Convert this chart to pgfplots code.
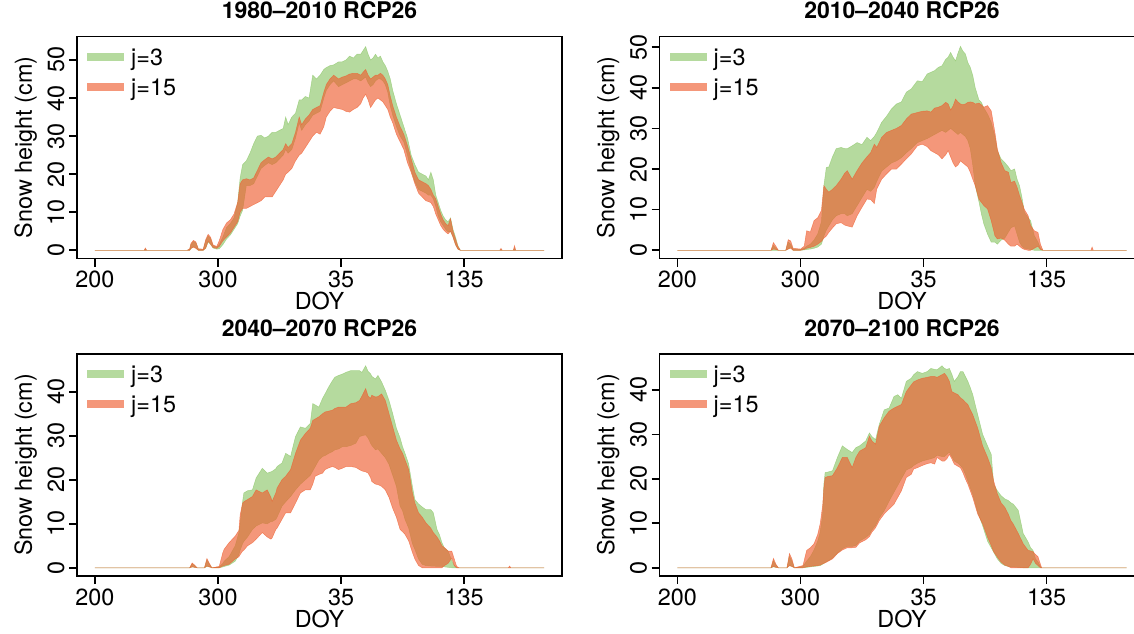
\documentclass[border=0pt]{standalone}
\usepackage{pgfplots}
\pgfplotsset{compat=1.18}
\usepackage{pgfplotstable}
\usepgfplotslibrary{fillbetween}
\usepackage{fontspec}
\setmainfont{TeX Gyre Heros}

\definecolor{gfill}{RGB}{139,197,103}
\definecolor{ofill}{RGB}{238,93,47}
\definecolor{gsw}{RGB}{181,218,158}
\definecolor{osw}{RGB}{244,151,122}
\newcommand\fs{\fontsize{11.7}{14}\selectfont}
\newcommand\ft{\fontsize{11.5}{14}\selectfont\bfseries}

% snow height envelopes: d = day index (DOY, continued past 365),
% gl/gh = band for j=3, ol/oh = band for j=15
\pgfplotstableread{
d gl gh ol oh
200 0 0 0 0
240 0 0 0 0
241 0 0.3 0 0.6
242 0 0 0 0
275 0 0 0 0
277 0 0.3 0 0.4
278 0.4 1.5 0.5 1.8
280 1.0 2.3 0.8 2.6
282 0.6 2.0 0.5 2.2
284 0 0.3 0 0.4
288 0 0.2 0 0.3
290 0.5 2.5 0.6 2.8
292 2.2 3.8 2.4 4.2
294 1.5 3.0 1.6 3.4
296 0.6 1.2 0.7 1.4
299 0.3 0.8 0.5 1.0
301 0.4 1.5 1.0 2.5
304 1.5 3.5 2.5 5.5
307 3.0 6.0 3.5 7.2
310 4.0 7.0 4.5 8.0
313 5.5 8.5 6.0 9.5
316 7.0 12.5 7.5 12.6
318 9.0 19.0 10.0 17.5
320 10.5 22.5 11.0 18.5
323 17.0 23.5 11.0 18.8
326 17.0 25.5 11.5 18.5
329 17.5 28.0 12.0 19.0
332 19.5 30.0 12.5 21.0
335 21.5 30.2 13.0 23.0
338 22.3 29.5 14.0 23.8
341 23.0 30.0 14.0 24.5
344 22.5 31.0 14.0 24.0
347 23.0 31.0 15.5 24.5
350 24.0 31.5 17.0 25.5
353 25.0 32.0 18.5 26.5
355 26.5 35.0 20.0 28.0
357 25.5 33.0 20.5 27.0
360 26.5 35.0 21.5 28.0
363 29.5 36.0 23.5 31.0
366 33.5 39.5 25.0 35.0
368 31.5 39.5 25.5 33.0
371 33.0 40.4 27.0 34.5
374 34.0 40.0 28.5 35.5
377 35.5 46.0 30.0 37.0
380 36.0 45.0 31.0 37.5
383 36.5 46.0 30.5 38.0
386 40.0 47.5 32.5 41.5
388 42.0 48.0 35.0 43.5
391 43.5 48.5 36.5 45.0
394 44.5 48.7 37.5 46.0
398 43.0 49.5 37.2 45.0
401 43.5 49.5 37.0 45.5
404 44.0 50.0 36.5 45.8
407 44.5 51.0 36.3 46.3
410 45.0 50.5 37.0 46.5
413 45.0 51.5 37.5 46.5
416 44.5 51.5 38.5 46.0
418 45.0 52.5 40.0 46.8
420 45.5 53.5 41.0 47.5
422 44.0 51.5 39.5 46.0
424 43.0 50.0 37.5 45.0
426 43.5 50.5 38.5 45.5
428 44.5 51.5 39.5 46.0
430 45.0 50.5 40.0 46.0
432 45.0 51.0 39.5 46.5
434 44.5 49.5 39.0 46.0
436 43.5 48.5 38.0 45.0
438 41.5 47.0 37.0 43.5
440 38.0 45.0 35.0 40.5
442 35.5 42.0 33.5 38.0
445 32.5 38.5 30.5 35.0
448 30.0 35.5 28.5 32.5
451 28.5 32.5 26.5 30.5
454 25.0 29.5 23.0 27.5
457 21.0 25.0 20.5 24.0
460 18.0 22.5 17.5 20.5
463 16.0 20.5 15.0 18.5
466 15.5 20.0 14.0 18.0
469 15.0 19.5 13.0 17.5
471 14.5 18.5 12.8 17.0
473 14.5 20.5 12.5 16.0
475 13.5 18.5 11.5 14.5
477 11.5 14.5 9.5 13.5
479 9.0 12.5 8.0 11.5
481 7.5 10.5 6.5 9.5
483 6.5 9.0 5.5 8.0
485 5.5 8.0 4.8 7.0
487 4.8 7.5 4.3 6.5
489 5.0 8.5 5.0 8.3
491 3.5 5.5 3.5 5.0
493 1.5 3.5 1.5 3.0
495 0.3 1.2 0.3 1.0
497 0 0 0 0
529 0 0 0 0
530 0 0.2 0 0.5
531 0 0 0 0
540 0 0 0 0
541 0 0.5 0 1.2
542 0 0 0 0
565 0 0 0 0
}\tabA

\pgfplotstableread{
d gl gh ol oh
200 0 0 0 0
276 0 0 0 0
278 0 1.2 0.3 1.9
280 0 0.5 0.2 1.0
282 0 0 0 0
288 0 0 0 0
290 0.3 2.0 0.3 2.6
292 0.8 1.5 0.5 2.3
294 0 0.3 0 0.5
300 0 0.2 0 0.3
303 0.1 0.5 0.2 1.0
305 0.2 1.0 0.5 4.8
308 0.3 1.5 0.7 4.5
311 0.5 2.5 1.0 7.3
314 0.8 4.0 1.5 8.0
317 1.5 7.0 2.2 9.8
319 3.5 15.9 3.0 15.9
321 5.0 20.4 3.5 15.0
323 6.0 20.5 4.4 14.3
326 7.5 23.0 5.5 15.0
329 8.5 25.0 6.5 15.9
333 9.0 25.3 6.8 17.5
336 9.0 25.0 6.2 19.0
338 8.5 25.0 6.0 19.6
342 9.0 25.7 5.7 17.5
346 11.0 26.5 8.5 19.6
350 13.0 26.0 10.6 21.5
354 15.0 27.8 12.6 23.0
357 14.5 27.0 12.5 24.0
360 15.5 28.0 11.5 26.1
362 17.0 29.0 15.1 25.3
366 19.5 31.5 17.5 27.8
370 20.5 33.0 18.8 29.0
374 21.5 34.8 20.0 29.5
378 22.0 36.0 20.0 30.0
382 22.8 36.5 21.2 30.7
386 24.0 38.9 22.5 32.3
390 25.0 39.7 23.7 33.5
395 26.5 41.7 25.7 33.9
399 27.0 41.5 26.1 34.2
403 27.5 43.4 25.5 34.3
406 28.0 43.8 24.5 34.0
409 28.5 44.2 24.0 35.0
412 29.0 45.0 23.5 35.2
415 29.5 45.4 22.5 35.6
418 29.0 47.0 23.5 36.4
420 29.5 47.5 24.5 36.0
422 30.0 48.7 23.0 34.5
424 29.5 47.5 21.5 35.5
426 29.0 46.6 20.5 37.2
428 28.5 48.5 21.0 36.5
430 29.0 50.2 22.0 36.0
432 28.5 49.0 21.5 35.8
434 28.0 48.3 21.0 36.0
436 27.0 46.2 20.5 36.4
438 25.0 45.0 19.2 36.5
440 21.0 43.0 17.5 36.4
442 16.0 40.0 15.9 36.0
445 12.0 37.0 12.6 36.2
447 9.0 36.4 11.8 35.8
449 6.5 35.0 11.0 35.2
452 4.0 33.5 10.2 35.6
455 2.0 31.5 7.3 34.3
458 2.0 28.0 3.6 29.0
460 1.5 24.5 2.8 24.9
463 2.5 22.5 3.0 21.6
466 3.0 21.6 2.5 19.6
469 4.5 20.5 1.5 19.2
471 5.5 19.6 1.0 16.7
474 6.0 20.0 1.0 17.0
476 4.0 17.5 1.5 15.5
478 2.0 15.9 1.0 13.5
480 1.0 13.0 0.5 11.8
482 0.5 9.3 0.2 10.0
485 0.3 8.0 0 8.5
487 0.2 7.3 0 6.1
490 0 3.6 0.5 4.8
493 0 2.0 1.0 4.4
495 0 0.5 0.2 1.5
497 0 0 0 0
536 0 0 0 0
537 0 0 0 0.8
538 0 0 0 0
565 0 0 0 0
}\tabB

\pgfplotstableread{
d gl gh ol oh
200 0 0 0 0
277 0 0 0 0
279 0.2 0.9 0.2 1.1
281 0.1 0.5 0.1 0.6
283 0 0 0 0
289 0 0 0 0
291 0.3 1.8 0.4 2.1
293 0.2 0.8 0.2 1.0
295 0 0 0 0
301 0 0.2 0 0.3
304 0.2 1.0 0.4 3.5
305 0.3 1.5 0.5 4.2
309 0.6 2.5 0.8 5.7
314 1.5 5.0 2.0 7.2
317 3.0 8.0 2.5 8.5
318 4.0 10.0 3.0 12.0
320 5.5 15.0 3.8 14.7
321 6.0 17.0 4.0 15.0
324 7.0 17.5 5.0 15.5
328 8.7 17.7 5.7 16.2
331 9.5 20.4 6.5 17.7
336 10.2 22.6 8.0 17.0
340 10.0 21.5 7.0 17.7
343 10.5 21.8 6.5 16.0
344 10.5 21.9 6.8 15.1
347 11.0 22.5 8.7 17.0
348 11.5 23.0 9.0 18.1
352 14.0 23.8 11.0 20.0
355 15.0 26.0 12.5 20.8
359 16.2 25.3 12.5 22.3
363 17.7 29.8 14.7 26.0
367 19.0 32.0 17.0 29.0
371 20.0 31.7 17.7 30.5
375 21.0 32.8 17.7 31.7
377 22.0 37.3 19.0 33.5
379 23.0 37.0 20.8 33.8
382 24.5 36.5 21.2 34.3
385 25.3 38.5 21.5 35.0
387 25.5 39.5 22.3 35.4
390 26.0 41.1 22.7 35.6
393 26.4 42.5 23.0 35.8
395 26.8 43.3 22.8 36.2
398 27.0 43.7 22.3 36.5
401 27.5 44.0 22.6 36.5
404 27.5 44.4 23.0 36.5
408 27.8 44.8 23.0 37.3
412 28.3 44.8 22.8 37.5
415 29.8 44.8 22.3 38.0
417 30.0 44.4 22.0 39.0
420 30.2 45.9 21.8 40.7
422 29.5 44.6 21.5 39.0
424 28.3 44.1 20.5 38.5
425 27.8 43.5 19.6 39.2
428 26.8 42.9 19.0 38.8
430 27.0 43.7 18.9 38.9
433 26.0 42.2 18.5 39.5
436 25.0 40.3 17.7 38.0
439 23.5 38.0 16.0 35.0
442 21.0 35.0 13.5 32.0
445 18.5 31.7 11.5 29.0
448 14.0 29.5 8.7 27.0
450 13.0 27.5 8.2 26.0
452 11.0 26.0 7.6 24.5
455 9.0 23.5 6.1 22.3
458 5.5 18.5 3.5 17.0
460 4.2 15.5 2.0 14.7
463 2.0 14.5 0.5 12.5
466 0.8 13.8 0 11.5
469 0.5 13.2 0 10.2
473 0.4 13.2 0 9.0
475 0.4 12.5 0 8.0
478 0.3 8.7 0 7.0
480 0.3 7.5 0 6.1
482 0.3 5.7 0 5.0
484 0.2 4.5 0.5 4.6
487 0.1 3.8 1.0 3.8
490 0 1.6 2.2 3.8
492 0 0.5 0.5 2.0
494 0 0 0 0.3
496 0 0 0 0
536 0 0 0 0
537 0 0 0 0.4
538 0 0 0 0
565 0 0 0 0
}\tabC

\pgfplotstableread{
d gl gh ol oh
200 0 0 0 0
276 0 0 0 0
278 0.2 1.6 0.3 2.1
280 0.1 0.6 0.1 0.8
282 0 0 0 0
289 0 0 0 0
291 0.5 2.6 0.5 3.2
293 0.3 1.5 0.3 2.0
295 0 0 0 0
302 0 0.3 0 0.5
305 0.1 1.5 0.2 3.9
308 0.2 2.5 0.3 4.5
311 0.3 4.0 0.4 5.4
314 0.4 6.0 0.5 7.5
316 0.5 8.0 0.6 9.9
318 0.8 12.0 0.9 14.0
319 1.0 18.8 1.0 18.0
320 1.2 21.4 1.1 20.3
322 1.5 21.5 1.4 20.5
326 2.2 21.8 2.0 20.7
330 3.3 24.8 3.2 22.5
334 4.3 27.4 4.0 24.8
338 4.8 26.6 4.5 24.8
342 4.8 25.9 4.5 22.5
345 5.0 27.0 4.6 24.8
348 6.0 27.4 5.6 26.2
353 6.8 28.5 6.3 27.0
356 7.5 30.3 7.0 29.6
358 8.5 29.5 8.0 28.5
361 9.5 28.8 9.0 27.8
364 11.2 32.2 10.6 31.8
368 12.8 35.5 12.1 33.7
372 15.0 35.9 13.2 35.2
376 17.0 38.5 14.3 35.9
379 18.5 38.9 15.8 36.3
382 20.0 38.1 17.3 36.7
386 22.0 41.9 20.3 39.6
390 22.5 42.6 21.0 41.1
392 23.0 43.4 22.2 41.8
395 23.5 44.1 22.5 42.2
399 24.0 43.7 23.0 42.6
403 24.3 44.1 23.4 42.8
406 24.5 44.8 23.6 43.0
409 24.8 44.6 23.3 43.0
411 25.3 44.5 24.8 42.8
415 25.0 45.4 24.0 43.4
417 25.0 44.8 24.0 43.7
419 25.5 44.6 24.5 43.0
421 26.0 44.8 25.5 41.9
423 25.0 43.5 24.5 39.6
425 24.0 41.9 23.3 39.3
428 23.5 43.0 22.8 38.9
430 23.0 44.1 22.5 38.2
432 22.3 44.1 21.4 37.8
434 21.0 43.0 20.0 37.2
436 19.5 41.9 18.8 36.7
438 18.0 40.5 17.3 35.5
440 16.5 38.9 15.8 34.4
444 12.5 34.4 12.1 31.4
448 9.5 30.0 9.9 27.4
452 6.0 27.4 6.9 24.8
455 4.5 25.5 5.0 22.5
457 3.5 18.8 3.6 19.5
460 2.0 17.3 2.4 16.6
463 1.0 16.2 1.3 14.6
466 0.5 15.5 0.6 13.6
469 0.3 15.1 0.3 12.0
471 0.2 14.6 0 10.6
473 0.2 14.3 0 9.8
477 0.1 12.9 0 7.7
481 0 7.7 0 5.4
485 0 5.8 0 3.9
487 0 4.5 0.8 3.8
489 0 3.9 2.0 3.6
491 0 2.0 1.0 3.0
493 0 1.3 0.5 2.5
495 0 0.3 0 0.8
496 0 0 0 0
565 0 0 0 0
}\tabD

\pgfplotsset{
  snow/.style={
    scale only axis, width=242.5pt, height=111pt,
    xmin=185.4, xmax=579.6,
    xtick={200,300,400,500}, xticklabels={200,300,35,135},
    axis line style={line width=0.8pt},
    tick style={black, line width=0.8pt},
    tick align=outside, xtick pos=bottom, ytick pos=left,
    major tick length=4pt,
    tick label style={font=\fs},
    /pgf/number format/assume math mode=true,
    xticklabel style={anchor=base},
    xticklabel shift=10.6pt,
    yticklabel style={rotate=90, anchor=base},
    yticklabel shift=2.4pt,
    xlabel={DOY}, ylabel={Snow height (cm)},
    xlabel style={at={(axis description cs:0.5,-0.2297)}, anchor=base, font=\fs},
    ylabel style={at={(axis description cs:-0.0928,0.5)}, anchor=base, font=\fs},
    title style={at={(axis description cs:0.5,1.0257)}, anchor=base, font=\ft},
    legend cell align=left,
    legend style={at={(axis description cs:0.0206,0.949)}, anchor=north west,
      draw=none, fill=none, inner sep=0pt, row sep=6.5pt,
      nodes={inner sep=0pt, text height=8.5pt, text depth=0pt, font=\fs},
      /tikz/every odd column/.append style={column sep=3.5pt}},
  },
  gband/.style={fill=gfill, fill opacity=0.64, draw=gfill, draw opacity=0.64, line width=0.25pt, forget plot},
  oband/.style={fill=ofill, fill opacity=0.64, draw=ofill, draw opacity=0.64, line width=0.25pt, forget plot},
}

% two overlapping envelopes per panel, j=3 underneath, j=15 on top
\newcommand\bands[1]{%
  \addlegendimage{legend image code/.code={\fill[gsw] (0pt,-1.75pt) rectangle (18pt,1.75pt);}}
  \addlegendentry{j=3}
  \addlegendimage{legend image code/.code={\fill[osw] (0pt,-1.75pt) rectangle (18pt,1.75pt);}}
  \addlegendentry{j=15}
  \addplot[draw=none, name path=gh, forget plot] table[x=d, y=gh] {#1};
  \addplot[draw=none, name path=gl, forget plot] table[x=d, y=gl] {#1};
  \addplot[gband] fill between[of=gh and gl];
  \addplot[draw=none, name path=oh, forget plot] table[x=d, y=oh] {#1};
  \addplot[draw=none, name path=ol, forget plot] table[x=d, y=ol] {#1};
  \addplot[oband] fill between[of=oh and ol];
}

\begin{document}
\begin{tikzpicture}

\begin{axis}[snow, at={(38.5pt,187.25pt)}, anchor=south west,
  ymin=-2.16, ymax=56.16, ytick={0,10,...,50}, title={1980--2010 RCP26}]
\bands{\tabA}
\end{axis}

\begin{axis}[snow, at={(329.75pt,187.25pt)}, anchor=south west,
  ymin=-2.02, ymax=52.6, ytick={0,10,...,50}, title={2010--2040 RCP26}]
\bands{\tabB}
\end{axis}

\begin{axis}[snow, at={(38.5pt,28.5pt)}, anchor=south west,
  ymin=-1.87, ymax=48.57, ytick={0,10,...,40}, title={2040--2070 RCP26}]
\bands{\tabC}
\end{axis}

\begin{axis}[snow, at={(329.75pt,28.5pt)}, anchor=south west,
  ymin=-1.85, ymax=48.05, ytick={0,10,...,40}, title={2070--2100 RCP26}]
\bands{\tabD}
\end{axis}

% page = the 1134 x 633 frame; the right-hand boxes run past its edge
\pgfresetboundingbox
\path (0,0) rectangle (567pt,316.5pt);
\end{tikzpicture}
\end{document}
